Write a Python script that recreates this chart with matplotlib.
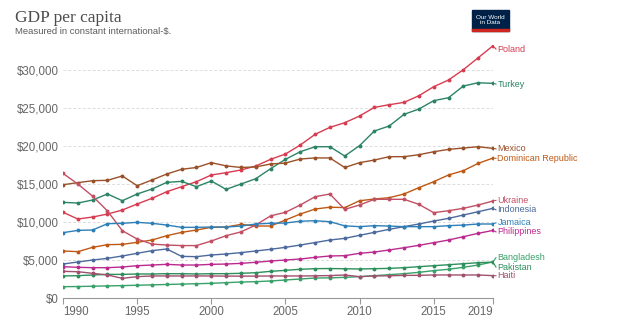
import matplotlib
matplotlib.use("Agg")
import matplotlib.pyplot as plt
from matplotlib.patches import Rectangle
from matplotlib.ticker import FuncFormatter

# Data (constant international-$)
years = list(range(1990, 2020))

poland = [11280, 10400, 10660, 11050, 11580, 12370, 13120, 13990, 14650, 15310,
          16190, 16490, 16850, 17370, 18250, 18950, 20130, 21540, 22460, 23070,
          23950, 25090, 25440, 25750, 26620, 27810, 28690, 30050, 31620, 33200]
turkey = [12590, 12500, 12900, 13690, 12800, 13690, 14340, 15220, 15350, 14650,
          15400, 14300, 15000, 15700, 17020, 18250, 19250, 19910, 19910, 18690,
          20050, 21980, 22640, 24170, 24870, 25970, 26360, 27900, 28330, 28250]
mexico = [14910, 15180, 15440, 15490, 16060, 14780, 15530, 16320, 16940, 17180,
          17810, 17390, 17180, 17250, 17640, 17760, 18290, 18440, 18430, 17180,
          17810, 18160, 18600, 18600, 18860, 19250, 19560, 19740, 19910, 19690]
dominican = [6190, 6100, 6670, 7020, 7060, 7330, 7630, 8200, 8640, 8950,
             9300, 9340, 9690, 9475, 9475, 10260, 11050, 11710, 11950, 11900,
             12800, 13030, 13200, 13690, 14520, 15310, 16190, 16760, 17720, 18420]
ukraine = [16400, 15000, 13400, 11450, 8860, 7760, 7100, 6970, 6900, 6900,
           7500, 8200, 8700, 9600, 10810, 11280, 12240, 13330, 13690, 11670,
           12240, 12990, 12990, 12990, 12330, 11230, 11490, 11800, 12240, 12770]
indonesia = [4470, 4740, 5000, 5220, 5530, 5880, 6230, 6450, 5480, 5440,
             5660, 5790, 5970, 6190, 6410, 6670, 6970, 7300, 7630, 7850,
             8250, 8640, 9040, 9390, 9740, 10130, 10480, 10920, 11360, 11800]
jamaica = [8600, 8900, 8950, 9780, 9830, 9960, 9830, 9600, 9300, 9300,
           9340, 9340, 9470, 9740, 9830, 9870, 10110, 10170, 10040, 9500,
           9390, 9520, 9470, 9390, 9390, 9390, 9520, 9600, 9740, 9740]
philippines = [4120, 4040, 3990, 3990, 4080, 4250, 4340, 4430, 4340, 4340,
               4430, 4470, 4560, 4700, 4870, 5000, 5130, 5350, 5530, 5570,
               5880, 6050, 6320, 6620, 6930, 7280, 7630, 8070, 8510, 8900]
bangladesh = [1490, 1510, 1550, 1590, 1630, 1680, 1730, 1780, 1830, 1880,
              1930, 2020, 2100, 2150, 2240, 2370, 2500, 2630, 2650, 2720,
              2810, 2940, 3070, 3200, 3380, 3600, 3780, 4040, 4340, 4750]
pakistan = [2900, 2940, 3030, 3110, 3110, 3160, 3160, 3200, 3200, 3160,
            3200, 3200, 3250, 3330, 3510, 3640, 3780, 3860, 3880, 3850,
            3820, 3860, 3900, 3990, 4120, 4250, 4380, 4510, 4650, 4720]
haiti = [3510, 3460, 3250, 3030, 2590, 2810, 2900, 2900, 2900, 2900,
         2900, 2880, 2880, 2880, 2900, 2900, 2900, 2920, 2950, 3030,
         2810, 2900, 2920, 2980, 2980, 3030, 3030, 3030, 3030, 2940]

countries = ["Poland", "Turkey", "Mexico", "Dominican Republic", "Ukraine",
             "Indonesia", "Jamaica", "Philippines", "Bangladesh", "Pakistan", "Haiti"]
series = [poland, turkey, mexico, dominican, ukraine, indonesia, jamaica,
          philippines, bangladesh, pakistan, haiti]

# styling / label layout
colors = {
    "Poland": "#d73c50", "Turkey": "#2c8465", "Mexico": "#9a5129",
    "Dominican Republic": "#be5915", "Ukraine": "#c15065", "Indonesia": "#4c6a9c",
    "Jamaica": "#2d7fb8", "Philippines": "#bb2a8f", "Bangladesh": "#38a169",
    "Pakistan": "#2c8f5c", "Haiti": "#a0506e",
}
label_y = {
    "Poland": 32770, "Turkey": 28160, "Mexico": 19630, "Dominican Republic": 18380,
    "Ukraine": 12850, "Indonesia": 11600, "Jamaica": 9900, "Philippines": 8700,
    "Bangladesh": 5300, "Pakistan": 4080, "Haiti": 2930,
}

plt.rcParams["font.family"] = ["Liberation Sans", "DejaVu Sans"]

fig = plt.figure(figsize=(6.2, 3.22), dpi=100)
ax = fig.add_axes([63 / 620, 1 - 298 / 322, (493 - 63) / 620, (298 - 45) / 322])

for name, vals in zip(countries, series):
    c = colors[name]
    ax.plot(years, vals, color=c, lw=1.0, marker="o", ms=1.8, zorder=3)
    ax.plot([years[-1], years[-1] + 0.2], [vals[-1], label_y[name]], color=c, lw=0.8,
            clip_on=False)
    ax.text(years[-1] + 0.3, label_y[name], name, color=c, fontsize=6.5,
            va="center", ha="left", clip_on=False)

ax.set_xlim(1990, 2019)
ax.set_ylim(0, 33300)

yt = [0, 5000, 10000, 15000, 20000, 25000, 30000]
ax.set_yticks(yt)
ax.yaxis.set_major_formatter(FuncFormatter(lambda v, p: f"${int(v):,}"))
ax.tick_params(axis="y", length=0, labelsize=8.3, labelcolor="#666666", pad=3)
for v in yt[1:]:
    ax.axhline(v, color="#dddddd", lw=0.7, ls=(0, (3, 2)), zorder=1)

xt = [1990, 1995, 2000, 2005, 2010, 2015, 2019]
ax.set_xticks(xt)
ax.set_xticklabels([str(x) for x in xt])
ax.tick_params(axis="x", length=4, color="#999999", labelsize=8.3,
               labelcolor="#666666", pad=2)
lbls = ax.get_xticklabels()
lbls[0].set_ha("left")
lbls[-1].set_ha("right")

for s in ["top", "right", "left"]:
    ax.spines[s].set_visible(False)
ax.spines["bottom"].set_color("#999999")
ax.spines["bottom"].set_linewidth(0.8)

# header
fig.text(15 / 620, 1 - 18 / 322, "GDP per capita", fontsize=12.5, color="#4d4d4d",
         family=["Liberation Serif", "DejaVu Serif"], va="center", ha="left")
fig.text(15 / 620, 1 - 31.5 / 322, "Measured in constant international-$.", fontsize=6.8,
         color="#5b5b5b", va="center", ha="left")

# logo
fig.patches.append(Rectangle((472 / 620, 1 - 31 / 322), 37 / 620, 21 / 322,
                             transform=fig.transFigure, color="#002147"))
fig.patches.append(Rectangle((472 / 620, 1 - 31 / 322), 37 / 620, 2 / 322,
                             transform=fig.transFigure, color="#ce261e"))
fig.text(490.5 / 620, 1 - 20 / 322, "Our World\nin Data", fontsize=4.6, color="white",
         ha="center", va="center", linespacing=1.0)

fig.savefig("out.png", dpi=100, facecolor="white")
